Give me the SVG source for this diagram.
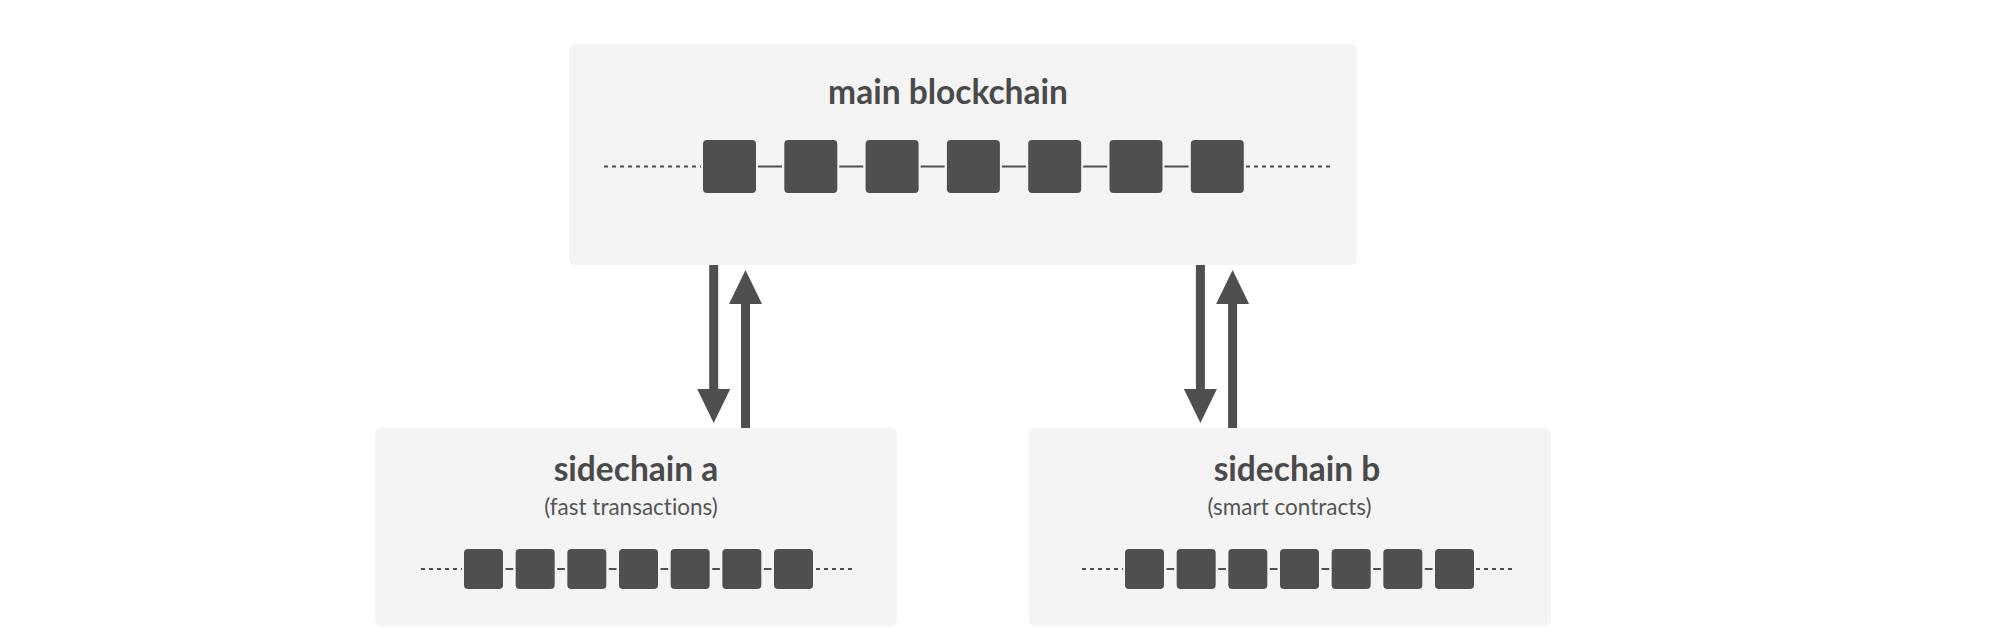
<svg xmlns="http://www.w3.org/2000/svg" width="1990" height="644" viewBox="0 0 1990 644">
<style>
.panel{fill:#f4f4f4}
.blk{fill:#4f4f4f}
.link{stroke:#4f4f4f;stroke-width:2}
.dots{stroke:#4f4f4f;stroke-width:2;stroke-dasharray:4 4}
.title{font-family:Lato,"Open Sans","Liberation Sans",sans-serif;font-weight:700;font-size:33.5px;fill:#4a4a4a;text-anchor:middle}
.sub{font-family:Lato,"Open Sans","Liberation Sans",sans-serif;font-weight:400;font-size:22.5px;fill:#555555;text-anchor:middle;font-variant-ligatures:none}
.arrow{stroke:#4f4f4f;stroke-width:9;fill:none}
</style>
<defs>
<marker id="head" viewBox="0 0 34 33" refX="1" refY="16.5" markerWidth="34" markerHeight="33" markerUnits="userSpaceOnUse" orient="auto">
<path d="M0,0 L34,16.5 L0,33 Z" fill="#4f4f4f"/>
</marker>
</defs>
<rect width="1990" height="644" fill="#ffffff"/>

<g id="main-blockchain">
<rect class="panel" x="569" y="44" width="788" height="221" rx="6"/>
<text class="title" x="948" y="104">main blockchain</text>
<line class="dots" x1="604" y1="166.5" x2="701" y2="166.5"/>
<line class="dots" x1="1246" y1="166.5" x2="1333" y2="166.5"/>
<line class="link" x1="758" y1="166.5" x2="782" y2="166.5"/>
<line class="link" x1="839.3" y1="166.5" x2="863.3" y2="166.5"/>
<line class="link" x1="920.6" y1="166.5" x2="944.6" y2="166.5"/>
<line class="link" x1="1001.9" y1="166.5" x2="1025.9" y2="166.5"/>
<line class="link" x1="1083.2" y1="166.5" x2="1107.2" y2="166.5"/>
<line class="link" x1="1164.5" y1="166.5" x2="1188.5" y2="166.5"/>
<rect class="blk" x="703" y="140" width="53" height="53" rx="4"/>
<rect class="blk" x="784.3" y="140" width="53" height="53" rx="4"/>
<rect class="blk" x="865.6" y="140" width="53" height="53" rx="4"/>
<rect class="blk" x="946.9" y="140" width="53" height="53" rx="4"/>
<rect class="blk" x="1028.2" y="140" width="53" height="53" rx="4"/>
<rect class="blk" x="1109.5" y="140" width="53" height="53" rx="4"/>
<rect class="blk" x="1190.8" y="140" width="53" height="53" rx="4"/>
</g>

<g id="sidechain-a">
<rect class="panel" x="375" y="428" width="522" height="198" rx="6"/>
<text class="title" x="636" y="481">sidechain a</text>
<text class="sub" x="631" y="515">(fast transactions)</text>
<line class="dots" x1="421" y1="569" x2="462" y2="569"/>
<line class="dots" x1="816" y1="569" x2="852" y2="569"/>
<g transform="translate(464,0)">
<line class="link" x1="41.5" y1="569" x2="49.2" y2="569"/>
<line class="link" x1="93.2" y1="569" x2="100.9" y2="569"/>
<line class="link" x1="144.8" y1="569" x2="152.5" y2="569"/>
<line class="link" x1="196.5" y1="569" x2="204.2" y2="569"/>
<line class="link" x1="248.2" y1="569" x2="255.9" y2="569"/>
<line class="link" x1="299.8" y1="569" x2="307.5" y2="569"/>
<rect class="blk" x="0" y="549" width="39" height="40" rx="4"/>
<rect class="blk" x="51.67" y="549" width="39" height="40" rx="4"/>
<rect class="blk" x="103.33" y="549" width="39" height="40" rx="4"/>
<rect class="blk" x="155" y="549" width="39" height="40" rx="4"/>
<rect class="blk" x="206.67" y="549" width="39" height="40" rx="4"/>
<rect class="blk" x="258.33" y="549" width="39" height="40" rx="4"/>
<rect class="blk" x="310" y="549" width="39" height="40" rx="4"/>
</g>
</g>

<g id="sidechain-b">
<rect class="panel" x="1029" y="428" width="522" height="198" rx="6"/>
<text class="title" x="1297" y="481">sidechain b</text>
<text class="sub" x="1289.5" y="515">(smart contracts)</text>
<line class="dots" x1="1082" y1="569" x2="1123" y2="569"/>
<line class="dots" x1="1476" y1="569" x2="1512" y2="569"/>
<g transform="translate(1125,0)">
<line class="link" x1="41.5" y1="569" x2="49.2" y2="569"/>
<line class="link" x1="93.2" y1="569" x2="100.9" y2="569"/>
<line class="link" x1="144.8" y1="569" x2="152.5" y2="569"/>
<line class="link" x1="196.5" y1="569" x2="204.2" y2="569"/>
<line class="link" x1="248.2" y1="569" x2="255.9" y2="569"/>
<line class="link" x1="299.8" y1="569" x2="307.5" y2="569"/>
<rect class="blk" x="0" y="549" width="39" height="40" rx="4"/>
<rect class="blk" x="51.67" y="549" width="39" height="40" rx="4"/>
<rect class="blk" x="103.33" y="549" width="39" height="40" rx="4"/>
<rect class="blk" x="155" y="549" width="39" height="40" rx="4"/>
<rect class="blk" x="206.67" y="549" width="39" height="40" rx="4"/>
<rect class="blk" x="258.33" y="549" width="39" height="40" rx="4"/>
<rect class="blk" x="310" y="549" width="39" height="40" rx="4"/>
</g>
</g>

<g id="connectors">
<line class="arrow" x1="713.7" y1="265" x2="713.7" y2="390" marker-end="url(#head)"/>
<line class="arrow" x1="745.5" y1="428" x2="745.5" y2="303" marker-end="url(#head)"/>
<line class="arrow" x1="1200.4" y1="265" x2="1200.4" y2="390" marker-end="url(#head)"/>
<line class="arrow" x1="1232.6" y1="428" x2="1232.6" y2="303" marker-end="url(#head)"/>
</g>
</svg>
